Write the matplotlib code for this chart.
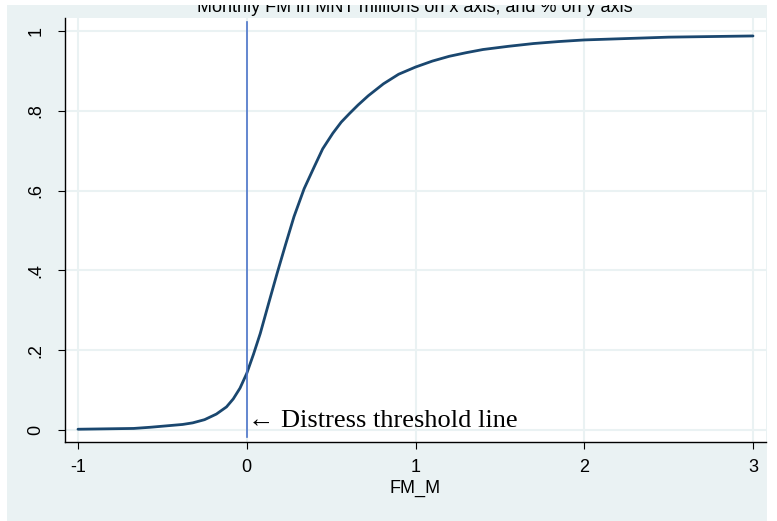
import matplotlib
matplotlib.use("Agg")
import matplotlib.pyplot as plt
from matplotlib.patches import Rectangle
from matplotlib.transforms import Bbox, TransformedBbox

# CDF of monthly FM
fm_m = [-1.0, -0.67, -0.57, -0.38, -0.32, -0.25, -0.18, -0.12, -0.08, -0.04, 0.0,
        0.04, 0.08, 0.13, 0.18, 0.23, 0.28, 0.34, 0.40, 0.45, 0.51, 0.56, 0.61,
        0.66, 0.72, 0.81, 0.90, 1.0, 1.1, 1.2, 1.3, 1.4, 1.55, 1.7, 1.85, 2.0, 2.5, 3.0]
share = [0.002, 0.004, 0.007, 0.014, 0.018, 0.026, 0.040, 0.058, 0.078, 0.105, 0.142,
         0.19, 0.242, 0.318, 0.393, 0.465, 0.535, 0.605, 0.660, 0.705, 0.744, 0.772, 0.794,
         0.815, 0.838, 0.868, 0.892, 0.910, 0.925, 0.937, 0.946, 0.954, 0.962, 0.969, 0.974,
         0.978, 0.985, 0.988]

x_ticks = [-1, 0, 1, 2, 3]
x_labels = ["-1", "0", "1", "2", "3"]
y_ticks = [0, 0.2, 0.4, 0.6, 0.8, 1.0]
y_labels = ["0", ".2", ".4", ".6", ".8", "1"]

title = "Monthly FM in MNT millions on x axis, and % on y axis"
note = "\u2190 Distress threshold line"

W, H = 777, 521
bg = "#eaf2f3"
navy = "#1a476f"

plt.rcParams["font.family"] = ["Liberation Sans", "DejaVu Sans"]

fig = plt.figure(figsize=(W / 100, H / 100), dpi=100, facecolor="white")
# graph region (light grey-blue), title is clipped at its top edge
reg = Bbox.from_extents(7 / W, 0, 767 / W, 1 - 5 / H)
fig.patches.append(Rectangle((reg.x0, reg.y0), reg.width, reg.height, transform=fig.transFigure,
                             facecolor=bg, edgecolor="none", zorder=-5))

ax = fig.add_axes([65 / W, 1 - 442 / H, (766 - 65) / W, (442 - 18) / H])
ax.set_zorder(1)
ax.set_facecolor("white")

ax.plot(fm_m, share, color=navy, lw=2.0, solid_capstyle="round", solid_joinstyle="round", zorder=3)
ax.axvline(0, ymin=0.012, ymax=0.99, color="#4c74c9", lw=1.2, zorder=4)
ax.text(0.006, 0.0075, note, family=["Liberation Serif", "DejaVu Serif"], fontsize=19,
        ha="left", va="baseline", zorder=5)

ax.set_xlim(-1.077, 3.077)
ax.set_ylim(-0.030, 1.033)
ax.set_xticks(x_ticks)
ax.set_xticklabels(x_labels)
ax.set_yticks(y_ticks)
ax.set_yticklabels(y_labels, rotation=90, va="center")
ax.grid(True, color=bg, lw=1.5, zorder=0)
ax.set_axisbelow(True)

for side in ["top", "right"]:
    ax.spines[side].set_visible(False)
for side in ["left", "bottom"]:
    ax.spines[side].set_color("black")
    ax.spines[side].set_linewidth(1.0)

ax.tick_params(axis="both", direction="out", length=5, width=0.8, colors="black", labelsize=13)
ax.tick_params(axis="x", pad=7)
ax.tick_params(axis="y", pad=10)
ax.set_xlabel("FM_M", fontsize=13, labelpad=3)

t = fig.text(415 / W, 1 - 12.5 / H, title, ha="center", va="baseline", fontsize=13)
t.set_clip_box(TransformedBbox(reg, fig.transFigure))
t.set_clip_on(True)

fig.savefig("out.png", dpi=100, facecolor="white")
